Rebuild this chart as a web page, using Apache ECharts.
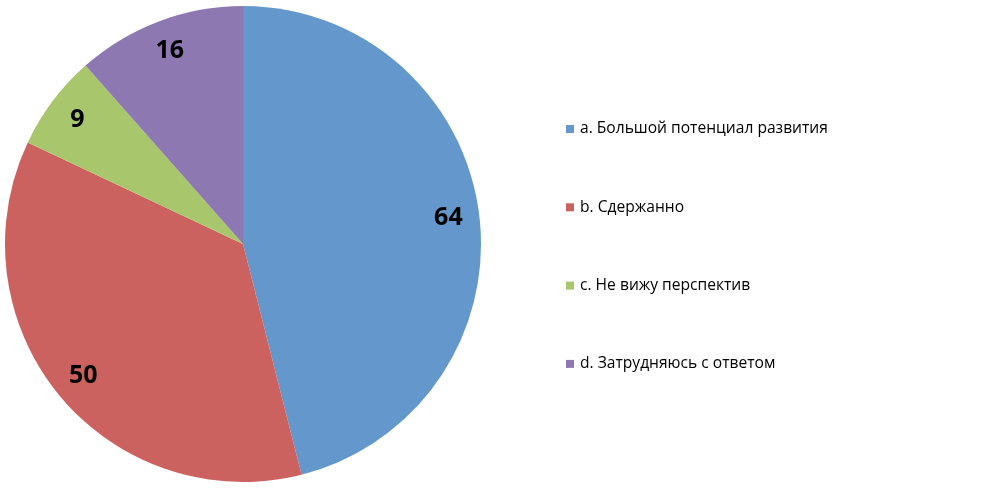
<!DOCTYPE html>
<html><head><meta charset="utf-8">
<script src="https://cdn.jsdelivr.net/npm/echarts@6/dist/echarts.min.js"></script>
<style>html,body{margin:0;padding:0;background:#fff}#c{width:1000px;height:492px}</style>
</head><body><div id="c"></div>
<script>
const categories = ['a. Большой потенциал развития', 'b. Сдержанно', 'c. Не вижу перспектив', 'd. Затрудняюсь с ответом'];
const values = [64, 50, 9, 16];
const colors = ['#6497CB', '#CB625F', '#A8C66B', '#8E78B1'];

const data = categories.map((n, i) => ({ name: n, value: values[i], itemStyle: { color: colors[i] } }));
const chart = echarts.init(document.getElementById('c'));
chart.setOption({
  animation: false,
  legend: {
    orient: 'vertical', left: 566, top: 121, padding: 0,
    itemWidth: 8, itemHeight: 8, itemGap: 62.3,
    icon: 'rect',
    textStyle: { fontFamily: 'Open Sans', fontSize: 15.6, color: '#000', lineHeight: 16, padding: [0,0,0,1] },
    data: categories
  },
  series: [
    {
      type: 'pie', center: [243, 244], radius: 238, startAngle: 90, clockwise: true,
      label: { show: false }, labelLine: { show: false },
      emphasis: { disabled: true }, silent: true,
      data: data
    },
    {
      type: 'pie', center: [243, 244], radius: [170, 238], startAngle: 90, clockwise: true,
      silent: true, emphasis: { disabled: true }, legendHoverLink: false,
      itemStyle: { color: 'rgba(0,0,0,0)' },
      label: { show: true, position: 'inside', formatter: '{c}', fontFamily: 'Open Sans', fontWeight: 'bold', fontSize: 25, color: '#000' },
      labelLine: { show: false },
      data: categories.map((n, i) => ({ name: n + ' ', value: values[i] }))
    }
  ]
});
</script></body></html>
